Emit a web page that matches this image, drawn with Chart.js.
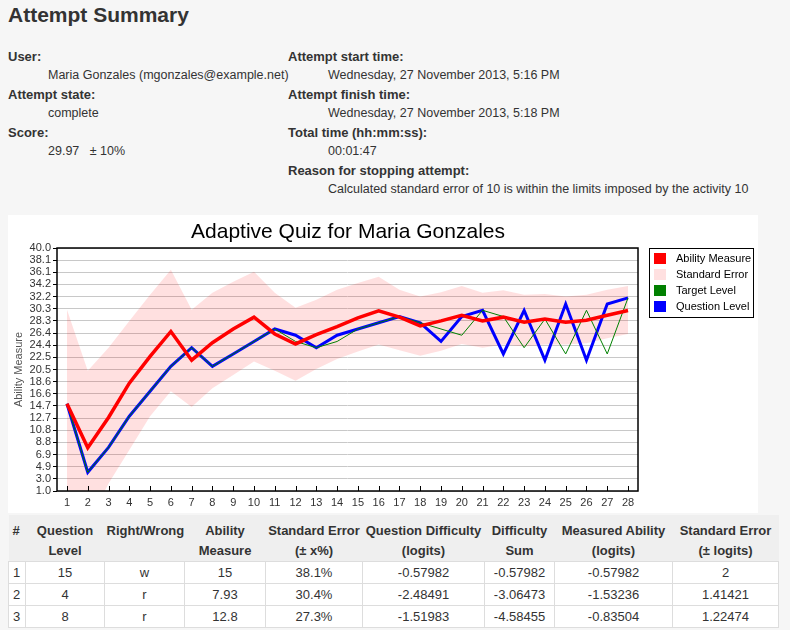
<!DOCTYPE html>
<html>
<head>
<meta charset="utf-8">
<title>Attempt Summary</title>
<script src="https://cdn.jsdelivr.net/npm/chart.js@4.4.0/dist/chart.umd.min.js"></script>
<style>
  body {
    margin: 0;
    width: 790px;
    height: 630px;
    background: #f6f6f6;
    font-family: "Liberation Sans", Arial, sans-serif;
    font-size: 13px;
    color: #333;
    position: relative;
    overflow: hidden;
  }
  h2 {
    position: absolute;
    left: 8px;
    top: 2px;
    margin: 0;
    font-size: 21px;
    line-height: 26px;
    color: #333;
  }
  dl.col {
    position: absolute;
    top: 47px;
    margin: 0;
    line-height: 19px;
  }
  dl.col dt { font-weight: bold; }
  dl.col dd { margin: 0 0 0 40px; font-size: 12.5px; }
  #chartBox {
    position: absolute;
    left: 8px;
    top: 215px;
    width: 750px;
    height: 298px;
    background: #fff;
  }
  #qtable {
    position: absolute;
    left: 8px;
    top: 515px;
    width: 770px;
    border-collapse: collapse;
    table-layout: fixed;
  }
  #qtable th {
    font-weight: bold;
    line-height: 20px;
    padding: 6px 2px 0 2px;
    vertical-align: top;
    text-align: center;
    background: #efefef;
    border-bottom: 1px solid #ddd;
  }
  #qtable td {
    background: #fff;
    border: 1px solid #ddd;
    height: 21px;
    padding: 0 2px;
    line-height: 20px;
    text-align: center;
  }
  #qtable th:first-child, #qtable td:first-child { text-align: left; padding-left: 4px; }
</style>
</head>
<body>

<h2>Attempt Summary</h2>

<dl class="col" style="left:8px">
  <dt>User:</dt><dd>Maria Gonzales (mgonzales@example.net)</dd>
  <dt>Attempt state:</dt><dd>complete</dd>
  <dt>Score:</dt><dd>29.97&nbsp;&nbsp;&nbsp;± 10%</dd>
</dl>
<dl class="col" style="left:288px">
  <dt>Attempt start time:</dt><dd>Wednesday, 27 November 2013, 5:16 PM</dd>
  <dt>Attempt finish time:</dt><dd>Wednesday, 27 November 2013, 5:18 PM</dd>
  <dt>Total time (hh:mm:ss):</dt><dd>00:01:47</dd>
  <dt>Reason for stopping attempt:</dt><dd>Calculated standard error of 10 is within the limits imposed by the activity 10</dd>
</dl>

<div id="chartBox"><canvas id="quizChart"></canvas></div>

<table id="qtable">
  <colgroup>
    <col style="width:17px"><col style="width:79px"><col style="width:80px">
    <col style="width:81px"><col style="width:97px"><col style="width:122px">
    <col style="width:70px"><col style="width:118px"><col style="width:106px">
  </colgroup>
  <thead><tr id="qhead"></tr></thead>
  <tbody id="qbody"></tbody>
</table>

<script>
// question numbers on the x axis
const questions = [1, 2, 3, 4, 5, 6, 7, 8, 9, 10, 11, 12, 13, 14, 15, 16, 17, 18, 19, 20, 21, 22, 23, 24, 25, 26, 27, 28];

// series
const abilityMeasure = [15, 7.93, 12.8, 18.3, 22.6, 26.6, 22.0, 24.8, 27.0, 28.9, 26.2, 24.6, 26.1, 27.4,
                        28.8, 29.9, 28.9, 27.5, 28.3, 29.2, 28.3, 28.9, 28.1, 28.6, 28.1, 28.4, 29.2, 29.97];
const errorUpper = [30.1, 20.3, 24.0, 28.3, 32.5, 36.5, 30.1, 32.8, 34.6, 36.2, 32.8, 30.4, 31.7, 33.3,
                    34.4, 35.4, 33.3, 32.2, 32.9, 33.9, 32.8, 33.2, 32.5, 32.6, 32.2, 32.5, 33.3, 33.9];
const errorLower = [0, -4.3, 2.2, 7.6, 13.0, 17.0, 14.5, 17.5, 19.6, 21.8, 20.3, 18.7, 20.6, 22.2,
                    23.4, 24.5, 23.6, 22.7, 23.5, 24.6, 24.0, 24.5, 24.2, 24.5, 24.5, 24.7, 25.5, 26.2];
const targetLevel = [15, 4, 8, 13, 17, 21, 24, 21, 23, 25, 27, 25, 24, 25,
                     27, 28, 29, 28, 27, 26, 30, 29, 24, 28.6, 23, 30, 23, 32];
const questionLevel = [15, 4, 8, 13, 17, 21, 24, 21, 23, 25, 27, 26, 24, 26,
                       27, 28, 29, 28, 25, 29, 30, 23, 30, 22, 31, 22, 31, 32];

// y axis ticks
const yTicks = [1.0, 2.95, 4.9, 6.85, 8.8, 10.75, 12.7, 14.65, 16.6, 18.55, 20.5,
                22.45, 24.4, 26.35, 28.3, 30.25, 32.2, 34.15, 36.1, 38.05, 40.0];
const yTickLabels = ['1.0', '3.0', '4.9', '6.9', '8.8', '10.8', '12.7', '14.7', '16.6', '18.6', '20.5',
                     '22.5', '24.4', '26.4', '28.3', '30.3', '32.2', '34.2', '36.1', '38.1', '40.0'];

// table under the chart
const tableHeaders = ['#', 'Question<br>Level', 'Right/Wrong', 'Ability<br>Measure', 'Standard Error<br>(± x%)',
                      'Question Difficulty<br>(logits)', 'Difficulty<br>Sum', 'Measured Ability<br>(logits)',
                      'Standard Error<br>(± logits)'];
const tableRows = [
  ['1', '15', 'w', '15', '38.1%', '-0.57982', '-0.57982', '-0.57982', '2'],
  ['2', '4', 'r', '7.93', '30.4%', '-2.48491', '-3.06473', '-1.53236', '1.41421'],
  ['3', '8', 'r', '12.8', '27.3%', '-1.51983', '-4.58455', '-0.83504', '1.22474']
];

document.getElementById('qhead').innerHTML = tableHeaders.map(h => '<th>' + h + '</th>').join('');
document.getElementById('qbody').innerHTML = tableRows
  .map(r => '<tr>' + r.map(c => '<td>' + c + '</td>').join('') + '</tr>').join('');

const toPoints = arr => arr.map((v, i) => ({ x: questions[i], y: v }));

// border round the plot, tick marks, title and boxed legend
const framePlugin = {
  id: 'frame',
  afterDatasetsDraw(chart) {
    const { ctx, chartArea: a } = chart;
    const xs = chart.scales.x;
    ctx.save();
    ctx.strokeStyle = '#000';
    ctx.lineWidth = 1.5;
    ctx.strokeRect(a.left, a.top, a.right - a.left, a.bottom - a.top);
    ctx.lineWidth = 1;
    questions.forEach(q => {
      const px = Math.round(xs.getPixelForValue(q)) + 0.5;
      ctx.beginPath();
      ctx.moveTo(px, a.bottom);
      ctx.lineTo(px, a.bottom - 5);
      ctx.stroke();
    });
    ctx.restore();
  },
  afterDraw(chart) {
    const { ctx } = chart;
    ctx.save();
    ctx.fillStyle = '#000';
    ctx.font = '21px "Liberation Sans", Arial, sans-serif';
    ctx.textAlign = 'center';
    ctx.textBaseline = 'middle';
    ctx.fillText('Adaptive Quiz for Maria Gonzales', 340, 17);

    const items = chart.data.datasets.filter(d => d.legendColor);
    ctx.fillStyle = '#fff';
    ctx.fillRect(641.5, 33.5, 104, 69);
    ctx.strokeStyle = '#000';
    ctx.lineWidth = 1;
    ctx.strokeRect(641.5, 33.5, 104, 69);
    ctx.font = '11px "Liberation Sans", Arial, sans-serif';
    ctx.textAlign = 'left';
    items.forEach((d, i) => {
      const cy = 43.5 + i * 16;
      ctx.fillStyle = d.legendColor;
      ctx.fillRect(646, cy - 5.5, 12, 11);
      ctx.fillStyle = '#000';
      ctx.fillText(d.label, 668, cy + 0.5);
    });
    ctx.restore();
  }
};

Chart.defaults.font.family = '"Liberation Sans", Arial, sans-serif';

new Chart(document.getElementById('quizChart'), {
  type: 'line',
  data: {
    datasets: [
      {
        label: 'Ability Measure',
        legendColor: '#ff0000',
        data: toPoints(abilityMeasure),
        borderColor: '#ff0000',
        borderWidth: 3.5,
        order: 0
      },
      {
        label: 'Standard Error',
        legendColor: '#ffe0e0',
        data: toPoints(errorUpper),
        borderWidth: 0,
        borderColor: 'rgba(0,0,0,0)',
        backgroundColor: 'rgba(255,0,0,0.12)',
        fill: '+1',
        order: 4
      },
      {
        label: 'Standard Error lower',
        data: toPoints(errorLower),
        borderWidth: 0,
        borderColor: 'rgba(0,0,0,0)',
        fill: false,
        order: 5
      },
      {
        label: 'Target Level',
        legendColor: '#008000',
        data: toPoints(targetLevel),
        borderColor: '#008000',
        borderWidth: 1,
        order: 1
      },
      {
        label: 'Question Level',
        legendColor: '#0000ff',
        data: toPoints(questionLevel),
        borderColor: '#0000ff',
        borderWidth: 3,
        order: 2
      }
    ]
  },
  options: {
    responsive: true,
    maintainAspectRatio: false,
    animation: false,
    layout: { padding: { left: 0, top: 33, right: 120, bottom: 0 } },
    elements: {
      point: { radius: 0, hoverRadius: 0 },
      line: { tension: 0 }
    },
    plugins: {
      legend: { display: false },
      title: { display: false },
      tooltip: { enabled: false }
    },
    scales: {
      x: {
        type: 'linear',
        min: 0.52,
        max: 28.48,
        afterBuildTicks: s => { s.ticks = questions.map(v => ({ value: v })); },
        afterFit: s => { s.height = 22; },
        grid: { drawOnChartArea: false, drawTicks: false },
        border: { display: false },
        ticks: {
          autoSkip: false,
          maxRotation: 0,
          padding: 5,
          color: '#333',
          font: { size: 11 }
        }
      },
      y: {
        min: 1,
        max: 40,
        afterBuildTicks: s => { s.ticks = yTicks.map(v => ({ value: v })); },
        afterFit: s => { s.width = 49; },
        grid: { color: '#c8c8c8', tickColor: '#000', tickLength: 4 },
        border: { display: false },
        ticks: {
          autoSkip: false,
          padding: 2,
          color: '#333',
          font: { size: 11 },
          callback: (v, i) => yTickLabels[i]
        },
        title: {
          display: true,
          text: 'Ability Measure',
          color: '#555',
          font: { size: 11 },
          padding: { top: 4, bottom: 0 }
        }
      }
    }
  },
  plugins: [framePlugin]
});
</script>
</body>
</html>
